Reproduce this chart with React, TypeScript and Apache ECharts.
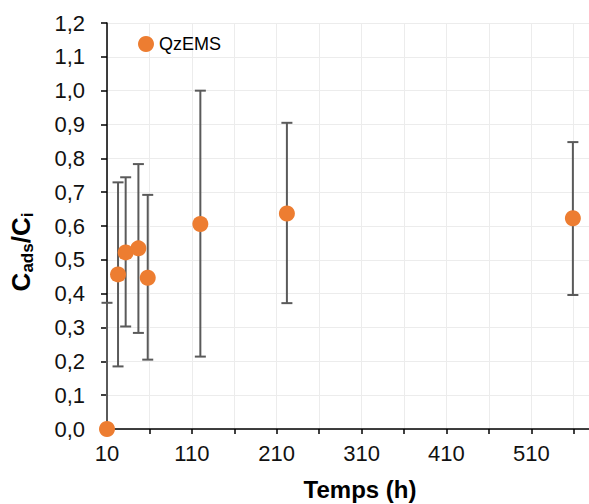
import React, { useEffect, useRef } from "react";
import * as echarts from "echarts";

const seriesName = "QzEMS";
const timeHours = [10, 23, 32, 47, 58, 120, 222, 559];
const ratioMean = [0.0, 0.457, 0.522, 0.534, 0.447, 0.606, 0.637, 0.623];
const ratioLow = [0.0, 0.185, 0.303, 0.284, 0.205, 0.214, 0.372, 0.396];
const ratioHigh = [0.373, 0.729, 0.744, 0.783, 0.692, 1.0, 0.905, 0.848];
const xLabelTicks = [10, 110, 210, 310, 410, 510];

export default function App() {
  const ref = useRef<HTMLDivElement>(null);
  useEffect(() => {
    if (!ref.current) return;
    const chart = echarts.init(ref.current, null, { renderer: "svg" });
    const font = "Liberation Sans, Arial, sans-serif";
    const points = timeHours.map((t, i) => [t, ratioMean[i]]);
    const bars = timeHours.map((t, i) => [t, ratioLow[i], ratioHigh[i]]);
    chart.setOption({
      animation: false,
      backgroundColor: "#ffffff",
      grid: { left: 107, top: 23, right: 0, bottom: 75, containLabel: false },
      legend: {
        left: 138,
        top: 35,
        padding: 0,
        icon: "circle",
        itemWidth: 16,
        itemHeight: 16,
        itemGap: 4,
        textStyle: { fontFamily: font, fontSize: 18, color: "#000" },
        data: [seriesName],
      },
      xAxis: {
        type: "value",
        min: 10,
        max: 578,
        interval: 50,
        axisLine: { show: true, onZero: false, lineStyle: { color: "#000", width: 1.5 } },
        axisTick: { show: true, length: 5, lineStyle: { color: "#000", width: 1.5 } },
        splitLine: { show: true, lineStyle: { color: "#ececec", width: 1 } },
        axisLabel: {
          fontFamily: font,
          fontSize: 22,
          color: "#111",
          margin: 13,
          showMaxLabel: false,
          formatter: (v: number) => (xLabelTicks.includes(Math.round(v)) ? String(Math.round(v)) : ""),
        },
      },
      yAxis: {
        type: "value",
        min: 0,
        max: 1.2,
        interval: 0.1,
        axisLine: { show: true, onZero: false, lineStyle: { color: "#000", width: 1.5 } },
        axisTick: { show: true, length: 6, lineStyle: { color: "#000", width: 1.5 } },
        splitLine: { show: true, lineStyle: { color: "#ececec", width: 1 } },
        axisLabel: {
          fontFamily: font,
          fontSize: 22,
          color: "#111",
          margin: 22,
          formatter: (v: number) => v.toFixed(1).replace(".", ","),
        },
      },
      series: [
        {
          type: "custom",
          name: "err",
          clip: false,
          z: 3,
          renderItem: (params: any, api: any) => {
            const x = api.value(0);
            const lo = api.coord([x, api.value(1)]);
            const hi = api.coord([x, api.value(2)]);
            const w = 5.5;
            const st = { stroke: "#5a5a5a", lineWidth: 2 };
            return {
              type: "group",
              children: [
                { type: "line", shape: { x1: lo[0], y1: lo[1], x2: hi[0], y2: hi[1] }, style: st },
                { type: "line", shape: { x1: hi[0] - w, y1: hi[1], x2: hi[0] + w, y2: hi[1] }, style: st },
                { type: "line", shape: { x1: lo[0] - w, y1: lo[1], x2: lo[0] + w, y2: lo[1] }, style: st },
              ],
            };
          },
          encode: { x: 0, y: [1, 2] },
          data: bars,
        },
        {
          type: "scatter",
          name: seriesName,
          symbol: "circle",
          symbolSize: 16,
          z: 5,
          itemStyle: { color: "#ED7D31", opacity: 1 },
          data: points,
        },
      ],
      graphic: [
        {
          type: "text",
          x: 360,
          y: 489,
          style: {
            text: "Temps (h)",
            fontFamily: font,
            fontSize: 24,
            fontWeight: "bold",
            fill: "#000",
            align: "center",
            verticalAlign: "middle",
          },
        },
        {
          type: "text",
          x: 21,
          y: 252,
          rotation: Math.PI / 2,
          style: {
            text: "{b|C}{s|ads}{b|/C}{s|i}",
            align: "center",
            verticalAlign: "middle",
            fill: "#000",
            rich: {
              b: { fontFamily: font, fontSize: 26, fontWeight: "bold", fill: "#000", lineHeight: 30, verticalAlign: "middle" },
              s: { fontFamily: font, fontSize: 17, fontWeight: "bold", fill: "#000", lineHeight: 17, verticalAlign: "bottom", padding: [11, 0, 0, 0] },
            },
          },
        },
      ],
    });
    return () => chart.dispose();
  }, []);
  return (
    <div
      ref={ref}
      style={{ position: "fixed", left: 0, top: 0, width: 589, height: 504, background: "#fff" }}
    />
  );
}
